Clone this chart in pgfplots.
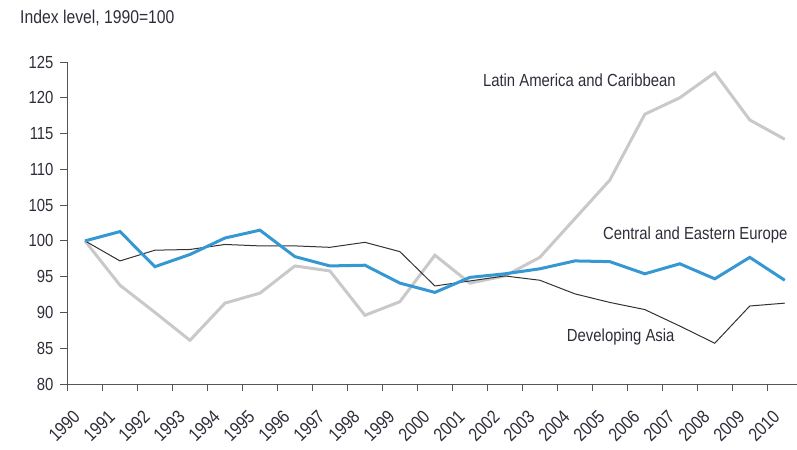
\documentclass[border=0pt]{standalone}
\usepackage{fontspec}
\setmainfont{Liberation Sans}[FakeStretch=0.85]
\usepackage{pgfplots}
\pgfplotsset{compat=1.18}
\definecolor{txt}{HTML}{2E2E3A}
\definecolor{axc}{HTML}{555555}
\definecolor{cee}{HTML}{3598D3}
\definecolor{lac}{HTML}{C9C9C9}
\definecolor{asia}{HTML}{333333}
\begin{document}
\fontsize{17.5bp}{20bp}\selectfont
\begin{tikzpicture}
\begin{axis}[
  scale only axis,
  width=729.5bp, height=322bp,
  xmin=-0.5, xmax=20.35,
  ymin=80, ymax=125,
  ytick={80,85,...,125},
  xtick={-0.5,0.5,...,19.5},
  xticklabels={},
  extra x ticks={0,...,20},
  extra x tick labels={1990,1991,1992,1993,1994,1995,1996,1997,1998,1999,2000,2001,2002,2003,2004,2005,2006,2007,2008,2009,2010},
  extra x tick style={major tick length=0pt, tick style={draw=none}},
  axis x line*=bottom, axis y line*=left,
  axis line style={axc, line width=1pt, -},
  tick align=outside,
  major tick length=7bp,
  tick style={axc, line width=1pt},
  tick label style={font=\fontsize{17.5bp}{20bp}\selectfont, text=txt},
  /pgf/number format/assume math mode=true,
  yticklabel style={xshift=-1bp},
  xticklabel style={font=\fontsize{18.5bp}{20bp}\selectfont, rotate=45, anchor=east, xshift=-21bp, yshift=-15bp},
  clip=false,
]
\coordinate (bl) at (rel axis cs:0,0);
\coordinate (tr) at (rel axis cs:1,1);
\coordinate (tl) at (rel axis cs:0,1);
\addplot[lac, line width=3bp] coordinates {
(0,100) (1,93.8) (2,90.0) (3,86.1) (4,91.3) (5,92.7) (6,96.5) (7,95.8) (8,89.6) (9,91.5) (10,98.0)
(11,94.1) (12,95.1) (13,97.7) (14,103.1) (15,108.5) (16,117.7) (17,120.0) (18,123.5) (19,116.9) (20,114.2)};
\addplot[asia, line width=1bp] coordinates {
(0,100) (1,97.2) (2,98.7) (3,98.8) (4,99.5) (5,99.3) (6,99.3) (7,99.1) (8,99.8) (9,98.5) (10,93.7)
(11,94.4) (12,95.1) (13,94.5) (14,92.6) (15,91.4) (16,90.4) (17,88.1) (18,85.7) (19,90.9) (20,91.3)};
\addplot[cee, line width=3bp] coordinates {
(0,100) (1,101.3) (2,96.4) (3,98.1) (4,100.4) (5,101.5) (6,97.8) (7,96.5) (8,96.6) (9,94.1) (10,92.8)
(11,94.9) (12,95.4) (13,96.1) (14,97.2) (15,97.1) (16,95.4) (17,96.8) (18,94.7) (19,97.7) (20,94.5)};
\node[anchor=west, text=txt, inner sep=0pt] at (axis cs:11.37,122.5) {Latin America and Caribbean};
\node[anchor=west, text=txt, inner sep=0pt] at (axis cs:14.8,100.8) {Central and Eastern Europe};
\node[anchor=west, text=txt, inner sep=0pt] at (axis cs:13.77,86.6) {Developing Asia};
\end{axis}
\node[anchor=base west, text=txt, inner sep=0pt] at ([xshift=-47.5bp, yshift=38bp]tl) {\fontsize{18.5bp}{20bp}\selectfont Index level, 1990=100};
\pgfresetboundingbox
\path ([xshift=-67.5bp, yshift=-66bp]bl) rectangle ([yshift=62bp]tr);
\end{tikzpicture}
\end{document}
